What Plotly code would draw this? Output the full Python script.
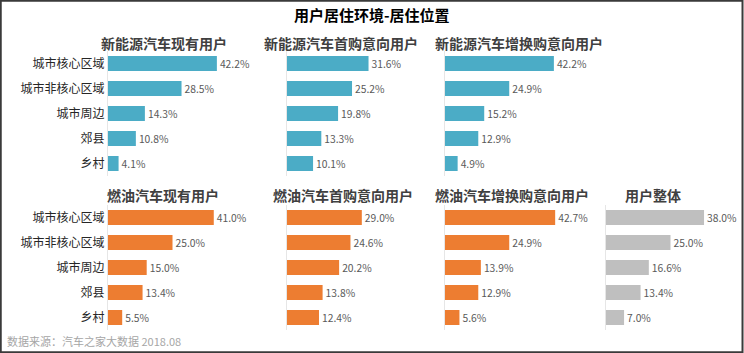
import plotly.graph_objects as go

W, H = 744, 353

categories = ["城市核心区域", "城市非核心区域", "城市周边", "郊县", "乡村"]

nev_current = [42.2, 28.5, 14.3, 10.8, 4.1]
nev_first = [31.6, 25.2, 19.8, 13.3, 10.1]
nev_replace = [42.2, 24.9, 15.2, 12.9, 4.9]
ice_current = [41.0, 25.0, 15.0, 13.4, 5.5]
ice_first = [29.0, 24.6, 20.2, 13.8, 12.4]
ice_replace = [42.7, 24.9, 13.9, 12.9, 5.6]
all_users = [38.0, 25.0, 16.6, 13.4, 7.0]

panel_titles_top = ["新能源汽车现有用户", "新能源汽车首购意向用户", "新能源汽车增换购意向用户"]
panel_titles_bottom = ["燃油汽车现有用户", "燃油汽车首购意向用户", "燃油汽车增换购意向用户", "用户整体"]

BLUE = "#4BACC6"
ORANGE = "#ED7D31"
GREY = "#BFBFBF"
FONT = "Noto Sans CJK SC"

PX_PER_PCT = 2.58

def px2x(p):
    return p / W

def px2y(p):
    return 1 - p / H

# panel specs: (values, color, left px, range max, row)
panels = [
    (nev_current, BLUE, 108, 60, "top"),
    (nev_first, BLUE, 287, 60, "top"),
    (nev_replace, BLUE, 445, 58, "top"),
    (ice_current, ORANGE, 108, 60, "bottom"),
    (ice_first, ORANGE, 287, 60, "bottom"),
    (ice_replace, ORANGE, 445, 58, "bottom"),
    (all_users, GREY, 606, 52, "bottom"),
]

ydom = {
    "top": [px2y(176), px2y(51)],
    "bottom": [px2y(330), px2y(205)],
}

fig = go.Figure()
layout = {}
for i, (vals, color, left, rmax, row) in enumerate(panels):
    n = i + 1
    xa = "x" if n == 1 else f"x{n}"
    ya = "y" if n == 1 else f"y{n}"
    fig.add_trace(go.Bar(
        x=vals, y=categories, orientation="h",
        marker=dict(color=color, line=dict(width=0)),
        width=0.6,
        text=[f"{v:.1f}%" for v in vals],
        textposition="outside",
        textfont=dict(family=FONT, size=11, color="#595959"),
        cliponaxis=False,
        xaxis=xa, yaxis=ya,
        hoverinfo="skip",
    ))
    right = left + rmax * PX_PER_PCT
    xkey = "xaxis" if n == 1 else f"xaxis{n}"
    ykey = "yaxis" if n == 1 else f"yaxis{n}"
    layout[xkey] = dict(
        domain=[px2x(left), px2x(right)], range=[0, rmax],
        anchor=ya, visible=False, fixedrange=True,
    )
    show_labels = left == 108
    layout[ykey] = dict(
        domain=ydom[row], anchor=xa,
        categoryorder="array", categoryarray=categories,
        autorange="reversed",
        showticklabels=show_labels,
        tickfont=dict(family=FONT, size=12, color="#262626"),
        ticks="", ticklen=0,
        showline=True, linecolor="#E6E6E6", linewidth=1,
        showgrid=False, zeroline=False, fixedrange=True,
    )

annotations = []
annotations.append(dict(
    text="<b>用户居住环境-居住位置</b>", x=px2x(372), y=px2y(15),
    xref="paper", yref="paper", showarrow=False,
    font=dict(family=FONT, size=15, color="#000000"),
    xanchor="center", yanchor="middle",
))
top_centers = [164, 341, 519]
for t, cx in zip(panel_titles_top, top_centers):
    annotations.append(dict(
        text=f"<b>{t}</b>", x=px2x(cx), y=px2y(43), xref="paper", yref="paper",
        showarrow=False, font=dict(family=FONT, size=14, color="#404040"),
        xanchor="center", yanchor="middle",
    ))
bottom_centers = [163, 343, 512, 653]
for t, cx in zip(panel_titles_bottom, bottom_centers):
    annotations.append(dict(
        text=f"<b>{t}</b>", x=px2x(cx), y=px2y(195), xref="paper", yref="paper",
        showarrow=False, font=dict(family=FONT, size=14, color="#404040"),
        xanchor="center", yanchor="middle",
    ))
annotations.append(dict(
    text="数据来源：汽车之家大数据 2018.08", x=px2x(5), y=px2y(341),
    xref="paper", yref="paper", showarrow=False,
    font=dict(family=FONT, size=11, color="#A6A6A6"),
    xanchor="left", yanchor="middle",
))

fig.update_layout(
    width=W, height=H,
    margin=dict(l=0, r=0, t=0, b=0, autoexpand=False),
    paper_bgcolor="white", plot_bgcolor="white",
    showlegend=False,
    annotations=annotations,
    shapes=[dict(type="rect", xref="paper", yref="paper", x0=0.001, y0=0.002,
                 x1=0.998, y1=0.998, line=dict(color="#3A3A3A", width=2))],
    bargap=0.4,
    **layout,
)

fig.write_html("out.html", config={"displayModeBar": False})
